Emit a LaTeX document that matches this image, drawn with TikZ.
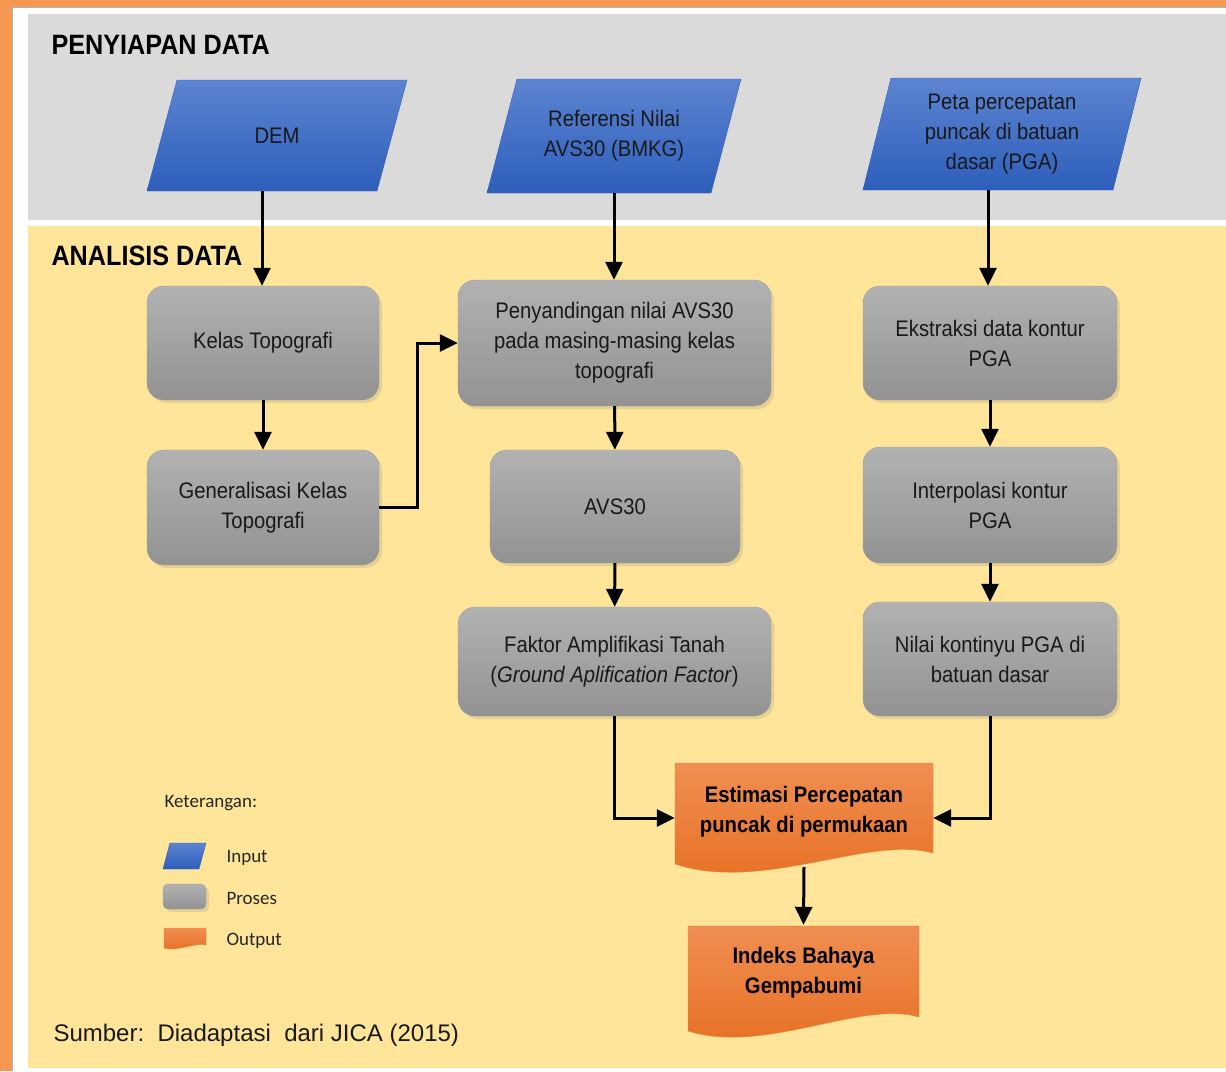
\documentclass[tikz,border=0pt]{standalone}
\usepackage{fontspec}
\setmainfont{Liberation Sans}
\newfontfamily\narrowfont[FakeStretch=0.9]{Liberation Sans}
\newfontfamily\keyfont{Carlito}
\usepackage{tikz}
\usetikzlibrary{arrows.meta, positioning, shadows}
\definecolor{bordOrange}{RGB}{247,152,82}
\definecolor{panelGray}{RGB}{218,218,218}
\definecolor{panelYellow}{RGB}{255,229,153}
\definecolor{inTop}{RGB}{92,132,208}
\definecolor{inBot}{RGB}{46,94,188}
\definecolor{procTop}{RGB}{178,178,178}
\definecolor{procBot}{RGB}{146,146,146}
\definecolor{outTop}{RGB}{240,142,82}
\definecolor{outBot}{RGB}{230,110,32}

\begin{document}
\begin{tikzpicture}[x=1pt, y=-1pt,
  infill/.style={top color=inTop, bottom color=inBot, draw=inBot},
  inputbox/.style={rectangle, inner sep=0pt, text=black!90, align=center,
    font=\narrowfont\fontsize{22.5}{30}\selectfont},
  procbox/.style={rectangle, rounded corners=17pt, top color=procTop, bottom color=procBot,
    draw=procBot!90, text=black!90, align=center, inner sep=0pt,
    drop shadow={opacity=0.2, shadow xshift=3pt, shadow yshift=-3pt},
    font=\narrowfont\fontsize{22.5}{30}\selectfont},
  outbox/.style={rectangle, inner sep=0pt, align=center, text=black,
    font=\narrowfont\bfseries\fontsize{22.5}{30}\selectfont},
  outfill/.style={top color=outTop, bottom color=outBot, draw=outBot!85},
  keytext/.style={anchor=west, font=\keyfont\fontsize{19}{22}\selectfont, text=black!85},
  arr/.style={-{Triangle[length=18pt,width=17pt]}, line width=3pt, black}]

  \useasboundingbox (0,0) rectangle (1226,1071);

  % frame and panels
  \fill[bordOrange] (0,0) rectangle (1226,1071);
  \fill[white] (12,7) rectangle (1226,1071);
  \draw[black!30, line width=1pt] (12,1071) -- (12,7) -- (1226,7);
  \fill[panelGray] (28,14) rectangle (1226,220);
  \fill[panelYellow] (28,226) rectangle (1226,1068);

  \node[anchor=west, font=\narrowfont\bfseries\fontsize{28}{32}\selectfont] (tprep) at (48,45) {PENYIAPAN DATA};
  \node[anchor=west, font=\narrowfont\bfseries\fontsize{28}{32}\selectfont] (tanal) at (48,256) {ANALISIS DATA};

  % input parallelograms: centre x/y, width, height, slant
  \foreach \cx/\cy/\w/\h/\s in {277/135.5/260/111/30, 614/136/254/114/30,
      1002/134/278/112/28, 184.5/856/43/26/7}
    \shade[infill] (\cx-\w/2+\s,\cy-\h/2) -- (\cx+\w/2,\cy-\h/2)
      -- (\cx+\w/2-\s,\cy+\h/2) -- (\cx-\w/2,\cy+\h/2) -- cycle;

  % output documents (wavy bottom)
  \shade[outfill] (675,763) -- (933,763) -- (933,853)
    .. controls (868,835) and (762,893) .. (675,864) -- cycle;
  \shade[outfill] (688,926) -- (919,926) -- (919,1017)
    .. controls (860,1000) and (765,1055) .. (688,1031) -- cycle;
  \shade[outfill] (164,928) -- (206,928) -- (206,945)
    .. controls (195,942) and (178,952) .. (164,948) -- cycle;

  % input
  \node[inputbox, minimum width=260, minimum height=111] (dem) at (277,135.5) {DEM};
  \node[inputbox, minimum width=254, minimum height=114] (ref) at (614,136) {Referensi Nilai\\AVS30 (BMKG)};
  \node[inputbox, minimum width=278, minimum height=112] (peta) at (1002,134) {Peta percepatan\\puncak di batuan\\dasar (PGA)};

  % proses
  \node[procbox, minimum width=232, minimum height=114] (kelas) at (263,343) {Kelas Topografi};
  \node[procbox, minimum width=232, minimum height=115] (gener) at (263,507.5) {Generalisasi Kelas\\Topografi};
  \node[procbox, minimum width=313, minimum height=126] (sanding) at (614.5,343) {Penyandingan nilai AVS30\\pada masing-masing kelas\\topografi};
  \node[procbox, minimum width=250, minimum height=113] (avs) at (615,506.5) {AVS30};
  \node[procbox, minimum width=313, minimum height=109] (faktor) at (614.5,661.5) {Faktor Amplifikasi Tanah\\(\textit{Ground Aplification Factor})};
  \node[procbox, minimum width=254, minimum height=114] (ekstr) at (990,343) {Ekstraksi data kontur\\PGA};
  \node[procbox, minimum width=254, minimum height=116] (interp) at (990,505) {Interpolasi kontur\\PGA};
  \node[procbox, minimum width=254, minimum height=114] (nilai) at (990,659) {Nilai kontinyu PGA di\\batuan dasar};

  % output
  \node[outbox, minimum width=258, minimum height=100] (estim) at (804,812) {Estimasi Percepatan\\puncak di permukaan};
  \node[outbox, minimum width=231, minimum height=96] (indeks) at (803.5,973) {Indeks Bahaya\\Gempabumi};

  % arrows
  \draw[arr] ([xshift=-15pt]dem.south) -- ([xshift=-15pt]dem.south |- kelas.north);
  \draw[arr] (ref.south) -- (ref.south |- sanding.north);
  \draw[arr] ([xshift=-14pt]peta.south) -- ([xshift=-14pt]peta.south |- ekstr.north);
  \draw[arr] (kelas) -- (gener);
  \draw[arr] (gener.east) -- ++(38,0) |- (sanding.west);
  \draw[arr] (sanding) -- (avs);
  \draw[arr] (avs) -- (faktor);
  \draw[arr] (ekstr) -- (interp);
  \draw[arr] (interp) -- (nilai);
  \draw[arr] (faktor.south) |- ([yshift=-6pt]estim.west);
  \draw[arr] (nilai.south) |- ([yshift=-6pt]estim.east);
  \draw[arr] ([yshift=-5pt]estim.south) -- (indeks.north);

  % legend
  \node[keytext] (ket) at (161,803) {Keterangan:};
  \node[procbox, rounded corners=5pt, drop shadow={opacity=0}, minimum width=43, minimum height=25] (keyproc) at (184.5,896.5) {};
  \node[keytext] (kin) at (223,858) {Input};
  \node[keytext] (kproc) at (223,898) {Proses};
  \node[keytext] (kout) at (223,941) {Output};

  \node[anchor=west, font=\fontsize{24}{28}\selectfont, text=black!90] (sumber) at (50,1035) {Sumber:\ \ Diadaptasi\ \ dari JICA (2015)};
\end{tikzpicture}
\end{document}
